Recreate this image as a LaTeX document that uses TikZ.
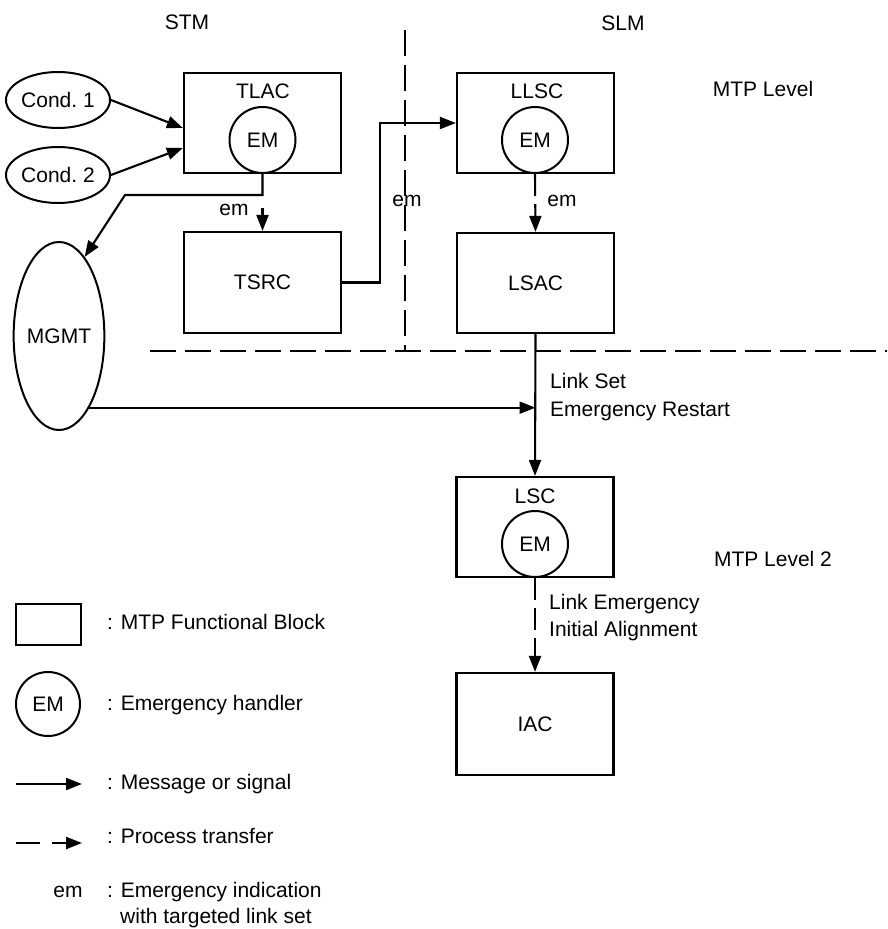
\documentclass[tikz,border=0pt]{standalone}
\usepackage{fontspec}
\setmainfont{Liberation Sans}
\usetikzlibrary{shapes.geometric,arrows.meta}
\begin{document}
\begin{tikzpicture}[x=1pt,y=-1pt,
  font=\fontsize{21}{27}\selectfont,
  txt/.style={inner sep=0pt,text height=15pt,text depth=3pt},
  block/.style={draw,line width=2.2pt,minimum width=157pt,minimum height=100pt,inner sep=0pt},
  emc/.style={draw,circle,line width=2pt,minimum size=66pt,inner sep=0pt},
  cond/.style={draw,ellipse,line width=2pt,inner sep=0pt},
  tip/.style={-{Triangle[length=16pt,width=12pt]}},
  msg/.style={line width=2.1pt,tip},
  proc/.style={line width=2.1pt,tip,dash pattern=on 22pt off 8pt},
  border/.style={line width=2.2pt,dash pattern=on 26pt off 9pt}
]
\useasboundingbox (0,0) rectangle (887,929);

% headings
\node[txt] (stm) at (187,23) {STM};
\node[txt] (slm) at (623,24) {SLM};
\node[txt] (mtpl) at (763,90) {MTP Level};
\node[txt] (mtpl2) at (773,560) {MTP Level 2};

% region borders
\draw[border] (405,30) -- (405,351);
\draw[border] (150,351) -- (887,351);

% blocks
\node[block] (tlac) at (262.5,123) {};
\node[txt] (tlact) at (263,92) {TLAC};
\node[emc] (tlacem) at (262.5,140) {EM};
\node[block,minimum height=101pt] (tsrc) at (262.5,282.5) {TSRC};

\node[block] (llsc) at (535.5,123) {};
\node[txt] (llsct) at (537,92) {LLSC};
\node[emc] (llscem) at (535,140) {EM};
\node[block,minimum height=100pt] (lsac) at (535.5,283) {LSAC};

\node[block] (lsc) at (535,527) {};
\node[txt] (lsct) at (535,497) {LSC};
\node[emc] (lscem) at (535,544) {EM};
\node[block,minimum height=102pt] (iac) at (535,724) {IAC};

% conditions and management
\node[cond,minimum width=97pt,minimum height=56pt] (cond1) at (58,100) {Cond.\ 1};
\node[cond,minimum width=97pt,minimum height=56pt] (cond2) at (58,175) {Cond.\ 2};
\node[cond,minimum width=84pt,minimum height=188pt] (mgmt) at (59,336) {MGMT};

% connectors
\draw[msg] (cond1.east) -- ([yshift=-5pt]tlac.west);
\draw[msg] (cond2.east) -- ([yshift=-25pt]tlac.west);

\coordinate (bend) at (125,195);
\draw[msg] (tlacem.south) |- (bend) -- (mgmt.72);
\coordinate (emsrc) at (262.5,208);
\draw[msg] (emsrc) -- (tsrc.north);
\node[txt] (em1) at (234,209) {em};

\draw[msg] (tsrc.east) -- ++(38,0) |- (llsc.west);
\node[txt] (em2) at (407,200) {em};

\draw[proc] (llscem.south) -- (lsac.north);
\node[txt] (em3) at (562,200) {em};

\draw[msg] (lsac.south) -- (lsc.north);
\coordinate (mgmtout) at (mgmt.-67);
\draw[msg,line width=1.9pt] (mgmtout) -- (mgmtout -| lsac.south);
\node[txt,anchor=west] (lsr1) at (550,382) {Link Set};
\node[txt,anchor=west] (lsr2) at (550,410) {Emergency Restart};

\draw[proc] (lscem.south) -- (iac.north);
\node[txt,anchor=west] (leia1) at (549,603) {Link Emergency};
\node[txt,anchor=west] (leia2) at (549,630) {Initial Alignment};

% legend
\node[draw,line width=2.2pt,minimum width=65pt,minimum height=41pt,inner sep=0pt] (lgblock) at (48.5,624.5) {};
\node[txt,anchor=west] (lgblockt) at (107,623) {: MTP Functional Block};
\node[emc,minimum size=64pt] (lgem) at (48,704) {EM};
\node[txt,anchor=west] (lgemt) at (107,704) {: Emergency handler};
\coordinate (lgm1) at (16,784);
\coordinate (lgm2) at (82,784);
\draw[msg] (lgm1) -- (lgm2);
\node[txt,anchor=west] (lgmt) at (107,783) {: Message or signal};
\coordinate (lgp1) at (16,843);
\coordinate (lgp2) at (82,843);
\draw[line width=2.1pt,tip,dash pattern=on 24pt off 12pt] (lgp1) -- (lgp2);
\node[txt,anchor=west] (lgpt) at (107,837) {: Process transfer};
\node[txt] (lgem2) at (68,891) {em};
\node[txt,anchor=west] (lgemt2) at (107,891) {: Emergency indication};
\node[txt,anchor=west] (lgemt3) at (120,917) {with targeted link set};
\end{tikzpicture}
\end{document}
